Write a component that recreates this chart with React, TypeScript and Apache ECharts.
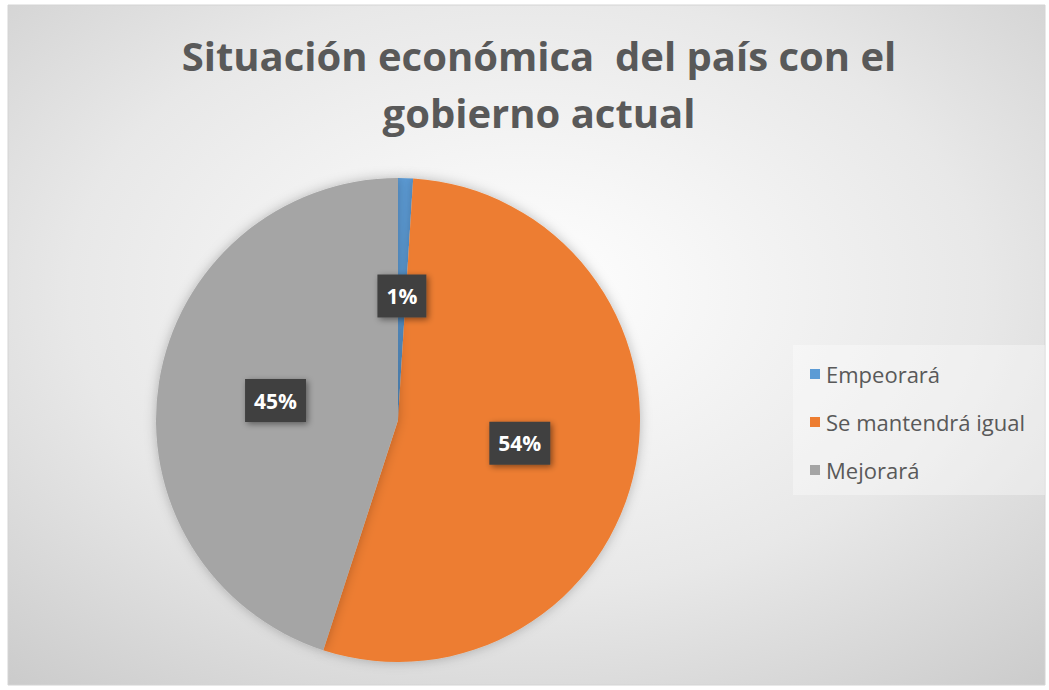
import React, { useEffect, useRef } from "react";
import * as echarts from "echarts";

const titleLines = ["Situación económica  del país con el", "gobierno actual"];
const categories = ["Empeorará", "Se mantendrá igual", "Mejorará"];
const values = [1, 54, 45];
const colors = ["#5B9BD5", "#ED7D31", "#A5A5A5"];

export default function App() {
  const ref = useRef<HTMLDivElement>(null);
  useEffect(() => {
    document.body.style.margin = "0";
    const chart = echarts.init(ref.current!, null, { renderer: "svg" });
    chart.setOption({
      animation: false,
      graphic: [
        {
          type: "rect",
          z: -10,
          silent: true,
          shape: { x: 8, y: 5, width: 1037, height: 680 },
          style: {
            fill: new echarts.graphic.RadialGradient(0.5, 0.42, 0.8, [
              { offset: 0, color: "#ffffff" },
              { offset: 0.55, color: "#e8e8e8" },
              { offset: 1, color: "#c8c8c8" },
            ]),
            stroke: "#d4d4d4",
            lineWidth: 1,
          },
        },
        {
          type: "rect",
          z: -5,
          silent: true,
          shape: { x: 793, y: 345, width: 252, height: 150 },
          style: { fill: "rgba(255,255,255,0.35)" },
        },
      ],
      title: {
        text: titleLines.join("\n"),
        left: 534,
        textAlign: "center",
        top: 22,
        textStyle: {
          fontFamily: "Open Sans",
          fontSize: 40,
          fontWeight: "bold",
          color: "#595959",
          lineHeight: 57,
        },
      },
      legend: {
        orient: "vertical",
        left: 805,
        top: 358,
        itemWidth: 10,
        itemHeight: 10,
        itemGap: 26,
        icon: "rect",
        data: categories,
        textStyle: {
          fontFamily: "Open Sans",
          fontSize: 22,
          color: "#595959",
          padding: [0, 0, 0, 1],
        },
      },
      series: [
        {
          type: "pie",
          center: [398, 420],
          radius: [0, 242],
          startAngle: 90,
          clockwise: true,
          silent: true,
          data: categories.map((name, i) => ({
            name,
            value: values[i],
            itemStyle: { color: colors[i] },
          })),
          itemStyle: {
            shadowBlur: 12,
            shadowColor: "rgba(0,0,0,0.25)",
          },
          label: {
            show: true,
            position: "inside",
            formatter: (p: any) => p.value + "%",
            backgroundColor: "#404040",
            color: "#ffffff",
            fontFamily: "Open Sans",
            fontWeight: "bold",
            fontSize: 21,
            padding: [11, 9],
            shadowBlur: 6,
            shadowColor: "rgba(0,0,0,0.45)",
            shadowOffsetX: 2,
            shadowOffsetY: 2,
          },
          labelLine: { show: false },
        },
      ],
    });
    return () => chart.dispose();
  }, []);
  return <div ref={ref} style={{ width: 1049, height: 690 }} />;
}
